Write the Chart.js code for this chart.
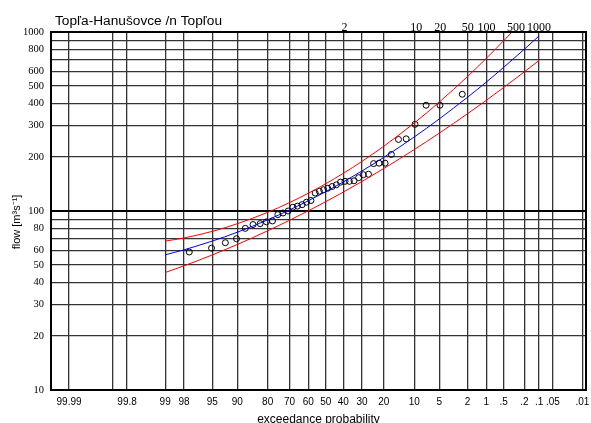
<!DOCTYPE html>
<html>
<head>
<meta charset="utf-8">
<script src="https://cdn.jsdelivr.net/npm/chart.js@4.4.1/dist/chart.umd.min.js"></script>
<style>
  html, body { margin: 0; padding: 0; background: #fff; }
  #chart { display: block; }
</style>
</head>
<body>
<canvas id="chart" width="591" height="423"></canvas>
<script>
const stationName = 'Topľa-Hanušovce /n Topľou';

// bottom axis: exceedance probability (%)
const probTicks = [99.99, 99.9, 99.8, 99, 98, 95, 90, 80, 70, 60, 50, 40, 30, 20, 10, 5, 2, 1, 0.5, 0.2, 0.1, 0.05, 0.01];
const probLabels = ['99.99', '', '99.8', '99', '98', '95', '90', '80', '70', '60', '50', '40', '30', '20', '10', '5', '2', '1', '.5', '.2', '.1', '.05', '.01'];

// top axis: return period (years)
const returnPeriods = [2, 10, 20, 50, 100, 500, 1000];

// flow axis (m3/s)
const flowTicks = [10, 20, 30, 40, 50, 60, 70, 80, 90, 100, 200, 300, 400, 500, 600, 700, 800, 900, 1000];
const flowLabels = ['10', '20', '30', '40', '50', '60', '', '80', '', '100', '200', '300', '400', '500', '600', '', '800', '', '1000'];

// observed maxima
const obsExceed = [97.6, 95.1, 92.7, 90.2, 87.8, 85.4, 82.9, 80.5, 78.0, 75.6, 73.2, 70.7, 68.3, 65.9, 63.4, 61.0, 58.5, 56.1, 53.7, 51.2,
  48.8, 46.3, 43.9, 41.5, 39.0, 36.6, 34.1, 31.7, 29.3, 26.8, 24.4, 22.0, 19.5, 17.1, 14.6, 12.2, 9.8, 7.3, 4.9, 2.4];
const obsFlow = [59, 62, 66.5, 70, 80, 84, 85, 87, 88, 95.5, 97.5, 100, 105, 106.5, 108.5, 112, 114.5, 126, 129, 131.5,
  134, 137, 140, 145, 146.5, 146.5, 147.5, 153.5, 159.5, 160.5, 184, 185, 185, 207, 251, 253, 305, 390, 390, 449];

// fitted distribution and its confidence band
const curveExceed = [99, 98, 95, 90, 80, 70, 60, 50, 40, 30, 20, 10, 5, 2, 1, 0.5, 0.2, 0.1];
const fitFlow = [56.9, 60.7, 67.9, 76.1, 89.2, 101.3, 114, 128.2, 145.2, 167.3, 199.4, 259, 326.8, 432, 525, 634, 802, 951];
const upperFlow = [67.9, 70.7, 76.9, 84.9, 98.3, 111.4, 125.6, 142, 162.3, 189.3, 230.1, 310, 406, 564, 713, 893, 1188, 1465];
const lowerFlow = [45.3, 49.4, 56.8, 65, 77.5, 88.7, 100.2, 112.7, 127.5, 146.2, 172.8, 220.3, 272.3, 349.5, 415.3, 489.1, 599.3, 694];

// inverse of the standard normal CDF (Acklam)
function probit(p) {
  const a = [-39.69683028665376, 220.9460984245205, -275.9285104469687, 138.357751867269, -30.66479806614716, 2.506628277459239];
  const b = [-54.47609879822406, 161.5858368580409, -155.6989798598866, 66.80131188771972, -13.28068155288572];
  const c = [-0.007784894002430293, -0.3223964580411365, -2.400758277161838, -2.549732539343734, 4.374664141464968, 2.938163982698783];
  const d = [0.007784695709041462, 0.3224671290700398, 2.445134137142996, 3.754408661907416];
  const lo = 0.02425;
  let q, r;
  if (p < lo) {
    q = Math.sqrt(-2 * Math.log(p));
    return (((((c[0] * q + c[1]) * q + c[2]) * q + c[3]) * q + c[4]) * q + c[5]) / ((((d[0] * q + d[1]) * q + d[2]) * q + d[3]) * q + 1);
  }
  if (p > 1 - lo) {
    q = Math.sqrt(-2 * Math.log(1 - p));
    return -(((((c[0] * q + c[1]) * q + c[2]) * q + c[3]) * q + c[4]) * q + c[5]) / ((((d[0] * q + d[1]) * q + d[2]) * q + d[3]) * q + 1);
  }
  q = p - 0.5;
  r = q * q;
  return (((((a[0] * r + a[1]) * r + a[2]) * r + a[3]) * r + a[4]) * r + a[5]) * q / (((((b[0] * r + b[1]) * r + b[2]) * r + b[3]) * r + b[4]) * r + 1);
}
const toZ = pct => probit(1 - pct / 100);
const pairs = (xs, ys) => xs.map((p, i) => ({ x: toZ(p), y: ys[i] }));

const frame = {
  id: 'frame',
  afterDraw(chart) {
    const { ctx, chartArea: a, scales: { x } } = chart;
    ctx.save();
    ctx.strokeStyle = '#000';
    ctx.lineWidth = 2;
    ctx.strokeRect(a.left, a.top, a.right - a.left, a.bottom - a.top);

    ctx.fillStyle = '#000';
    ctx.textBaseline = 'alphabetic';
    ctx.font = '13.7px "Liberation Sans"';
    ctx.textAlign = 'left';
    ctx.fillText(stationName, 55, 25);

    // return periods, pushed left when they would collide
    ctx.font = '12px "Liberation Serif"';
    ctx.textAlign = 'center';
    let limit = a.right;
    for (let i = returnPeriods.length - 1; i >= 0; i--) {
      const T = returnPeriods[i];
      const label = String(T);
      const w = ctx.measureText(label).width;
      let cx = x.getPixelForValue(toZ(100 * (1 - Math.exp(-1 / T))));
      if (cx + w / 2 > limit) cx = limit - w / 2;
      ctx.fillText(label, cx, a.top - 1.5);
      limit = cx - w / 2 - 2;
    }

    ctx.font = '12px "Liberation Sans"';
    ctx.fillText('exceedance probability', (a.left + a.right) / 2, 423);
    ctx.translate(17, 222);
    ctx.rotate(-Math.PI / 2);
    ctx.textBaseline = 'middle';
    ctx.font = '11px "Liberation Sans"';
    ctx.fillText('flow [m³s⁻¹]', 0, 0);
    ctx.restore();
  }
};

new Chart(document.getElementById('chart'), {
  type: 'scatter',
  data: {
    datasets: [
      {
        data: pairs(curveExceed, upperFlow),
        showLine: true, borderColor: '#ff0000', borderWidth: 1, pointRadius: 0,
        cubicInterpolationMode: 'monotone', clip: 0
      },
      {
        data: pairs(curveExceed, lowerFlow),
        showLine: true, borderColor: '#ff0000', borderWidth: 1, pointRadius: 0,
        cubicInterpolationMode: 'monotone', clip: 0
      },
      {
        data: pairs(curveExceed, fitFlow),
        showLine: true, borderColor: '#0000ff', borderWidth: 1, pointRadius: 0,
        cubicInterpolationMode: 'monotone', clip: 0
      },
      {
        data: pairs(obsExceed, obsFlow),
        pointStyle: 'circle', pointRadius: 3, borderColor: '#000', borderWidth: 1,
        backgroundColor: 'rgba(0,0,0,0)'
      }
    ]
  },
  options: {
    responsive: false,
    animation: false,
    devicePixelRatio: 1,
    layout: { padding: { left: 0, right: 3, top: 32, bottom: 0 } },
    plugins: { legend: { display: false }, tooltip: { enabled: false } },
    scales: {
      x: {
        type: 'linear',
        min: -3.98,
        max: 3.77,
        afterBuildTicks: s => { s.ticks = probTicks.map(p => ({ value: toZ(p) })); },
        afterFit: s => { s.height = 33; s.paddingLeft = 0; s.paddingRight = 0; },
        grid: { color: '#333', lineWidth: 1.3, drawTicks: false },
        border: { display: false },
        ticks: {
          autoSkip: false, maxRotation: 0, padding: 6, color: '#000',
          font: { family: 'Liberation Sans', size: 10 },
          callback: (v, i) => probLabels[i]
        }
      },
      y: {
        type: 'logarithmic',
        min: 10,
        max: 1000,
        afterBuildTicks: s => { s.ticks = flowTicks.map(v => ({ value: v })); },
        afterFit: s => { s.width = 51; s.paddingTop = 0; s.paddingBottom = 0; },
        grid: {
          color: c => (c.tick && c.tick.value === 100 ? '#000' : '#333'),
          lineWidth: c => (c.tick && c.tick.value === 100 ? 2 : 1.3),
          drawTicks: false
        },
        border: { display: false },
        ticks: {
          autoSkip: false, padding: 7, color: '#000',
          font: { family: 'Liberation Serif', size: 10.5 },
          callback: (v, i) => flowLabels[i]
        }
      }
    }
  },
  plugins: [frame]
});
</script>
</body>
</html>
